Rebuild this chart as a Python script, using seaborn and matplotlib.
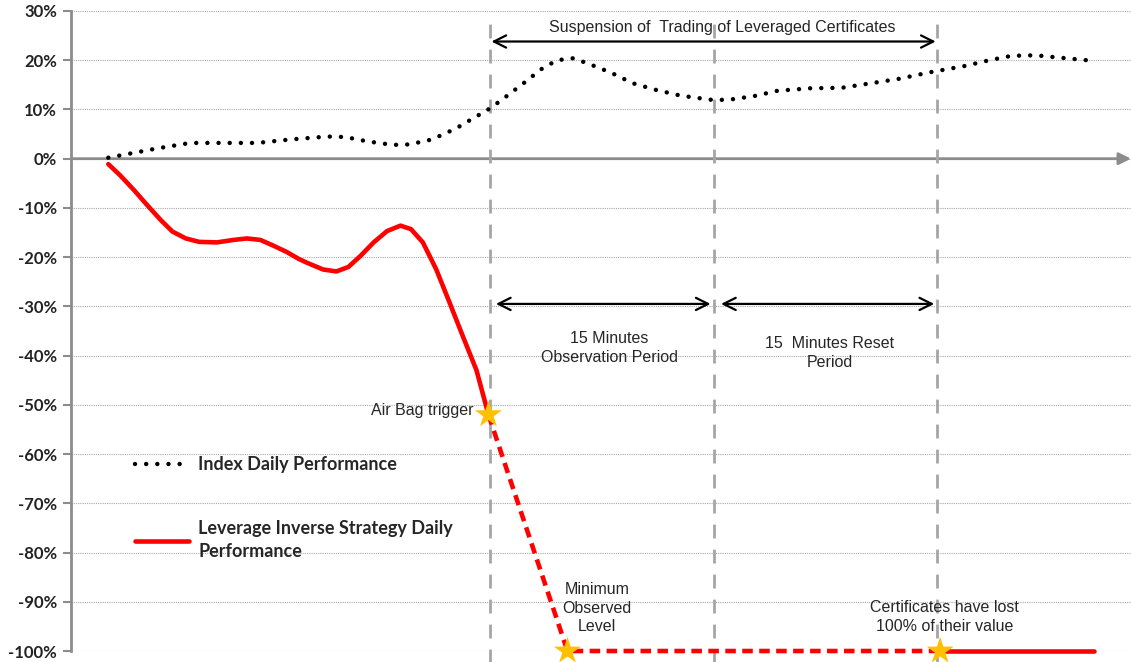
import numpy as np
import pandas as pd
import matplotlib
matplotlib.use("Agg")
import matplotlib.pyplot as plt
import seaborn as sns

# --- data (x in minutes relative to the Air Bag trigger, y in %) ---
index_t = [-25.6, -22.3, -20.1, -17.9, -15.6, -13.4, -10.9, -9.7, -8.2, -6.5,
           -5.4, -3.9, -2.3, -0.9, 0.0, 0.9, 2.2, 3.5, 4.5, 5.6,
           6.6, 8.1, 9.6, 11.1, 12.8, 15.0, 16.1, 17.7, 19.3, 21.5,
           23.6, 25.3, 27.4, 29.6, 31.8, 33.5, 35.0, 36.6, 38.3, 40.4]
index_perf = [0.2, 2.1, 3.2, 3.2, 3.2, 3.9, 4.5, 4.4, 3.5, 2.8,
              2.9, 3.9, 6.1, 8.6, 10.2, 12.2, 15.2, 18.3, 20.0, 20.4,
              19.3, 17.5, 15.3, 14.0, 12.8, 11.9, 12.0, 12.7, 13.8, 14.3,
              14.4, 15.2, 16.2, 17.6, 18.8, 20.0, 20.9, 21.0, 20.5, 19.9]

strat_t = [-25.6, -24.8, -23.9, -23.0, -22.1, -21.3, -20.4, -19.5, -18.3, -17.2,
           -16.3, -15.4, -14.5, -13.6, -12.8, -12.3, -11.2, -10.3, -9.5, -8.7,
           -7.8, -6.9, -6.0, -5.3, -4.5, -3.6, -2.7, -1.8, -0.9, -0.1]
strat_perf = [-1.1, -3.4, -6.3, -9.4, -12.4, -14.8, -16.2, -16.9, -17.0, -16.5,
              -16.2, -16.5, -17.7, -19.0, -20.4, -21.1, -22.5, -22.9, -22.0, -19.8,
              -17.0, -14.7, -13.6, -14.3, -17.0, -22.5, -29.3, -36.2, -43.0, -52.0]

gap_t = [-0.1, 5.2, 30.2]          # dashed part (trading suspended)
gap_perf = [-52.0, -100.0, -100.0]

final_t = [30.2, 40.5]             # certificates worthless
final_perf = [-100.0, -100.0]

star_t = [-0.1, 5.2, 30.2]
star_perf = [-52.0, -100.0, -100.0]

event_t = [0, 15, 30]              # trigger, end of observation, end of reset

yticks = list(range(30, -101, -10))
ytick_labels = [f"{v}%" for v in yticks]

# --- plot ---
sns.set_theme(style="white")
plt.rcParams['font.family'] = ['Liberation Sans', 'DejaVu Sans']

fig = plt.figure(figsize=(11.31, 6.62), dpi=100)
ax = fig.add_axes([0.0628, 0.0166, 0.9372, 0.9668])

ax.set_xlim(-28.1, 43.0)
ax.set_ylim(-100, 30)

# grid
for v in yticks:
    ax.axhline(v, color='#A8A8A8', lw=0.8, ls=(0, (1, 1)), zorder=0)

# x axis with arrow at 0
ax.annotate('', xy=(43.0, 0), xytext=(-28.1, 0),
            arrowprops=dict(arrowstyle='-|>', color='#8C8C8C', lw=2,
                            mutation_scale=18, shrinkA=0, shrinkB=0),
            annotation_clip=False, zorder=1)

# vertical event lines
for t in event_t:
    ax.axvline(t, ymin=-0.02, ymax=0.985, color='#A6A6A6', lw=2,
               ls=(0, (5, 4)), clip_on=False, zorder=1)

sns.lineplot(x=index_t, y=index_perf, ax=ax, color='black', lw=3.2,
             linestyle=(0, (0.01, 2.5)), dash_capstyle='round',
             label='Index Daily Performance', zorder=3)
sns.lineplot(x=strat_t, y=strat_perf, ax=ax, color='#FF0000', lw=3.3,
             solid_capstyle='round', solid_joinstyle='round',
             label='Leverage Inverse Strategy Daily\nPerformance', zorder=3)
sns.lineplot(x=gap_t, y=gap_perf, ax=ax, color='#FF0000', lw=3.3,
             linestyle=(0, (2.3, 1.4)), clip_on=False, zorder=3)
sns.lineplot(x=final_t, y=final_perf, ax=ax, color='#FF0000', lw=3.3,
             clip_on=False, zorder=3)
ax.scatter(star_t, star_perf, marker='*', s=420, color='#FFC000',
           edgecolor='none', zorder=5, clip_on=False)

# annotations
fs = 11.5
ls_txt = 1.3
ax.annotate('', xy=(0.1, 23.8), xytext=(29.9, 23.8),
            arrowprops=dict(arrowstyle='<->', color='black', lw=1.6,
                            mutation_scale=22, shrinkA=0, shrinkB=0))
ax.text(15.6, 26.6, 'Suspension of  Trading of Leveraged Certificates',
        ha='center', va='center', fontsize=fs)

ax.annotate('', xy=(0.4, -29.5), xytext=(14.8, -29.5),
            arrowprops=dict(arrowstyle='<->', color='black', lw=1.6,
                            mutation_scale=22, shrinkA=0, shrinkB=0))
ax.annotate('', xy=(15.5, -29.5), xytext=(29.8, -29.5),
            arrowprops=dict(arrowstyle='<->', color='black', lw=1.6,
                            mutation_scale=22, shrinkA=0, shrinkB=0))
ax.text(8.0, -38.5, '15 Minutes\nObservation Period', ha='center',
        va='center', fontsize=fs, linespacing=ls_txt)
ax.text(22.8, -39.5, '15  Minutes Reset\nPeriod', ha='center',
        va='center', fontsize=fs, linespacing=ls_txt)
ax.text(-1.1, -51.2, 'Air Bag trigger', ha='right', va='center',
        fontsize=fs)
ax.text(7.2, -91.3, 'Minimum\nObserved\nLevel', ha='center', va='center',
        fontsize=fs, linespacing=ls_txt)
ax.text(30.5, -93.1, 'Certificates have lost\n100% of their value',
        ha='center', va='center', fontsize=fs, linespacing=ls_txt)

# legend
leg = ax.legend(loc='upper left', bbox_to_anchor=(0.045, 0.33),
                frameon=False, handlelength=3.0, handletextpad=0.5,
                labelspacing=2.6, prop=dict(family='Lato', weight='bold',
                                            size=13))
for txt in leg.get_texts():
    txt.set_linespacing(1.45)

# axes styling
ax.set_xticks([])
ax.set_yticks(yticks)
ax.set_yticklabels(ytick_labels, fontfamily='Lato', fontweight='bold',
                   fontsize=12, color='#222222')
ax.tick_params(axis='y', direction='out', length=6, width=1.5,
               color='#8C8C8C', pad=4, left=True)
for side in ['top', 'right', 'bottom']:
    ax.spines[side].set_visible(False)
ax.spines['left'].set_color('#8C8C8C')
ax.spines['left'].set_linewidth(2)
ax.set_xlabel('')
ax.set_ylabel('')

fig.savefig('out.png', dpi=100)
